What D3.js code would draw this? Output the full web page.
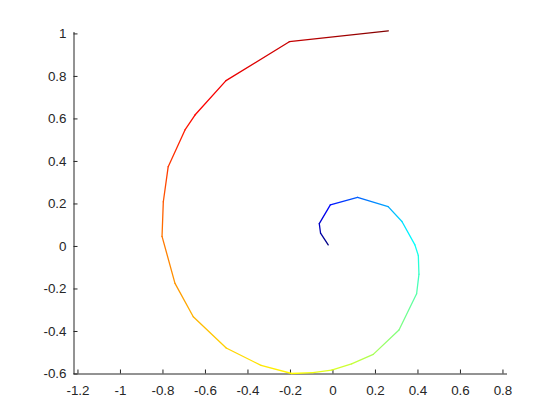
<!DOCTYPE html>
<html>
<head>
<meta charset="utf-8">
<script src="https://cdn.jsdelivr.net/npm/d3@7"></script>
<style>
html, body { margin: 0; padding: 0; background: #fff; }
svg { display: block; }
</style>
</head>
<body>
<svg id="chart" width="560" height="420"></svg>
<script>
// spiral vertices
const xValues = [-0.020, -0.056, -0.062, -0.010, 0.118, 0.262, 0.327, 0.388, 0.404, 0.407,
                 0.396, 0.313, 0.192, 0.090, -0.004, -0.092, -0.192, -0.336, -0.500, -0.655,
                 -0.741, -0.802, -0.796, -0.773, -0.694, -0.647, -0.501, -0.203, 0.263];
const yValues = [0.005, 0.060, 0.105, 0.193, 0.229, 0.185, 0.115, 0.005, -0.045, -0.133,
                 -0.225, -0.395, -0.510, -0.555, -0.584, -0.596, -0.600, -0.562, -0.480, -0.333,
                 -0.176, 0.045, 0.208, 0.373, 0.546, 0.616, 0.778, 0.961, 1.012];
// colour value of each vertex (0..1 on the jet colormap)
const colorValues = [0.00, 0.04, 0.07, 0.14, 0.22, 0.29, 0.34, 0.38, 0.40, 0.43,
                     0.46, 0.50, 0.54, 0.57, 0.59, 0.61, 0.63, 0.65, 0.67, 0.70,
                     0.73, 0.76, 0.79, 0.82, 0.85, 0.87, 0.89, 0.93, 1.00];
const xTicks = [-1.2, -1, -0.8, -0.6, -0.4, -0.2, 0, 0.2, 0.4, 0.6, 0.8];
const yTicks = [-0.6, -0.4, -0.2, 0, 0.2, 0.4, 0.6, 0.8, 1];
const jetStops = ["#000080", "#0000ff", "#00ffff", "#ffff00", "#ff0000", "#800000"];
const jetPositions = [0, 0.125, 0.375, 0.625, 0.875, 1];

const svg = d3.select("#chart");
const x = d3.scaleLinear().domain([-1.221, 0.819]).range([73, 506.5]);
const y = d3.scaleLinear().domain([-0.6, 1.009]).range([373.5, 31.5]);
const jet = d3.scaleLinear().domain(jetPositions).range(jetStops).interpolate(d3.interpolateRgb).clamp(true);

const fmt = d => String(+d.toFixed(1));
const axisColor = "#262626";

// x axis
const gx = svg.append("g").attr("transform", "translate(0,373.5)")
  .call(d3.axisBottom(x).tickValues(xTicks).tickFormat(fmt).tickSizeInner(-4).tickSizeOuter(0).tickPadding(12));
// y axis
const gy = svg.append("g").attr("transform", "translate(73.5,0)")
  .call(d3.axisLeft(y).tickValues(yTicks).tickFormat(fmt).tickSizeInner(-4).tickSizeOuter(0).tickPadding(7));

[gx, gy].forEach(g => {
  g.select(".domain").attr("stroke", axisColor).attr("stroke-width", 1);
  g.selectAll(".tick line").attr("stroke", axisColor).attr("stroke-width", 1);
  g.selectAll(".tick text").attr("fill", axisColor)
    .style("font-family", "'Liberation Sans', Arial, sans-serif").style("font-size", "13.4px");
});

// spiral with colour interpolated along each segment
const pts = xValues.map((v, i) => ({x: x(v), y: y(yValues[i]), c: colorValues[i]}));
const defs = svg.append("defs");
const segs = d3.range(pts.length - 1).map(i => ({a: pts[i], b: pts[i + 1], i}));
segs.forEach(s => {
  const gr = defs.append("linearGradient")
    .attr("id", "seg" + s.i)
    .attr("gradientUnits", "userSpaceOnUse")
    .attr("x1", s.a.x).attr("y1", s.a.y).attr("x2", s.b.x).attr("y2", s.b.y);
  const n = 6;
  d3.range(n + 1).forEach(k => {
    const t = k / n;
    gr.append("stop").attr("offset", t).attr("stop-color", jet(s.a.c + (s.b.c - s.a.c) * t));
  });
});
svg.append("g").selectAll("line").data(segs).join("line")
  .attr("x1", d => d.a.x).attr("y1", d => d.a.y)
  .attr("x2", d => d.b.x).attr("y2", d => d.b.y)
  .attr("stroke", d => `url(#seg${d.i})`)
  .attr("stroke-width", 1.3)
  .attr("stroke-linecap", "round");
</script>
</body>
</html>
